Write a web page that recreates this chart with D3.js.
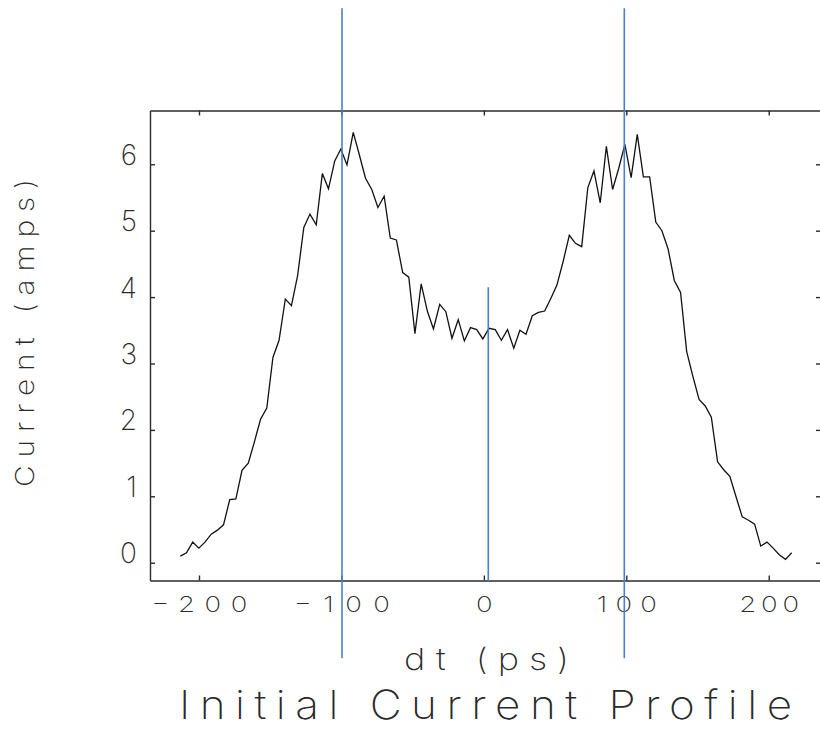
<!DOCTYPE html>
<html>
<head>
<meta charset="utf-8">
<script src="https://cdn.jsdelivr.net/npm/d3@7"></script>
<style>
  body { margin: 0; background: #fff; }
  text { font-family: Inter, "DejaVu Sans", sans-serif; font-weight: 200; fill: #2a2a2a; }
</style>
</head>
<body>
<svg id="svgHolder"></svg>
<script>
// bunch profile
let dt = [-213.1, -208.8, -204.4, -200.1, -195.8, -191.4, -187.1, -182.8, -178.4, -174.1,
          -169.8, -165.4, -161.1, -156.8, -152.4, -148.1, -143.8, -139.4, -135.1, -130.8,
          -126.4, -122.1, -117.7, -113.4, -109.1, -104.7, -100.4, -96.1, -91.7, -87.4,
          -83.1, -78.7, -74.4, -70.0, -65.7, -61.4, -57.0, -52.7, -48.4, -44.0,
          -39.7, -35.4, -31.0, -26.7, -22.4, -18.0, -13.7, -9.4, -5.0, -0.7,
          3.6, 8.0, 12.3, 16.6, 21.0, 25.3, 29.6, 34.0, 38.3, 42.7,
          47.0, 51.3, 55.7, 60.0, 64.3, 68.7, 73.0, 77.3, 81.7, 86.0,
          90.4, 94.7, 99.0, 103.4, 107.7, 112.0, 116.4, 120.7, 125.0, 129.4,
          133.7, 138.1, 142.4, 146.7, 151.1, 155.4, 159.7, 164.1, 168.4, 172.7,
          177.1, 181.4, 185.8, 190.1, 194.4, 198.8, 203.1, 207.4, 211.8, 216.1];

let current = [0.10, 0.15, 0.31, 0.22, 0.31, 0.43, 0.49, 0.57, 0.95, 0.96,
               1.39, 1.50, 1.82, 2.16, 2.33, 3.09, 3.35, 3.97, 3.87, 4.32,
               5.05, 5.25, 5.09, 5.86, 5.63, 6.05, 6.23, 5.99, 6.48, 6.14,
               5.79, 5.62, 5.35, 5.52, 4.89, 4.86, 4.37, 4.30, 3.45, 4.20,
               3.79, 3.52, 3.89, 3.78, 3.38, 3.66, 3.34, 3.54, 3.51, 3.37,
               3.53, 3.51, 3.35, 3.51, 3.23, 3.50, 3.44, 3.72, 3.77, 3.79,
               3.98, 4.18, 4.54, 4.93, 4.81, 4.76, 5.65, 5.90, 5.42, 6.27,
               5.62, 5.94, 6.30, 5.80, 6.45, 5.81, 5.81, 5.13, 5.00, 4.72,
               4.25, 4.07, 3.18, 2.81, 2.46, 2.36, 2.19, 1.52, 1.40, 1.30,
               0.99, 0.69, 0.64, 0.58, 0.25, 0.31, 0.22, 0.12, 0.05, 0.15];

let xTicks = [-200, -100, 0, 100, 200];
let yTicks = [0, 1, 2, 3, 4, 5, 6];

// blue marker lines
let markerDt = [-99.6, 3.1, 98.6];
let markerTop = [8.35, 4.15, 8.35];
let markerBottom = [-1.44, -0.27, -1.44];

let width = 820;
let height = 729;
let plotLeft = 150, plotRight = 821, plotTop = 110.5, plotBottom = 580.5;

let xScale = d3.scaleLinear().domain([-234.4, 236.7]).range([plotLeft, plotRight]);
let yScale = d3.scaleLinear().domain([-0.268, 6.81]).range([plotBottom, plotTop]);

let svg = d3.select('#svgHolder')
    .attr('width', width)
    .attr('height', height);

svg.append('rect')
    .attr('width', width)
    .attr('height', height)
    .attr('fill', '#fff');

function styleAxis(g) {
    g.selectAll('path, line').attr('stroke', '#2a2a2a').attr('stroke-width', 1.4);
}

// bottom axis with labels
let xAxis = d3.axisBottom(xScale)
    .tickValues(xTicks)
    .tickSizeInner(-5)
    .tickSizeOuter(0)
    .tickFormat((d) => d < 0 ? '\u2212' + Math.abs(d) : String(d));

let gx = svg.append('g')
    .attr('transform', 'translate(0,' + plotBottom + ')')
    .call(xAxis)
    .call(styleAxis);

// wide, stroke-font-like labels: stretch glyphs sideways
let labelStretch = 1.25;
gx.selectAll('text')
    .attr('y', 0)
    .attr('dy', 0)
    .attr('transform', 'translate(0,31.5) scale(' + labelStretch + ',1)')
    .attr('font-size', 22)
    .attr('fill', '#2a2a2a')
    .each(function (d) {
        let s = String(Math.abs(d));
        if (s.length > 1 || d < 0) {
            d3.select(this)
                .attr('textLength', (20 * s.length + (d < 0 ? 36 : 0)) / labelStretch)
                .attr('lengthAdjust', 'spacing');
        }
    });

// top axis, ticks only
svg.append('g')
    .attr('transform', 'translate(0,' + plotTop + ')')
    .call(d3.axisTop(xScale).tickValues(xTicks).tickSizeInner(-5).tickSizeOuter(0).tickFormat(''))
    .call(styleAxis);

// left axis with labels
let gy = svg.append('g')
    .attr('transform', 'translate(' + plotLeft + ',0)')
    .call(d3.axisLeft(yScale).tickValues(yTicks).tickSizeInner(-5).tickSizeOuter(0).tickPadding(13))
    .call(styleAxis);

gy.selectAll('text')
    .attr('dy', 0)
    .attr('font-size', 28)
    .attr('fill', '#2a2a2a');

// right axis, ticks only
svg.append('g')
    .attr('transform', 'translate(' + plotRight + ',0)')
    .call(d3.axisRight(yScale).tickValues(yTicks).tickSizeInner(-5).tickSizeOuter(0).tickFormat(''))
    .call(styleAxis);

// profile
let line = d3.line()
    .x((d, i) => xScale(dt[i]))
    .y((d) => yScale(d));

svg.append('path')
    .datum(current)
    .attr('d', line)
    .attr('fill', 'none')
    .attr('stroke', '#111')
    .attr('stroke-width', 1.3);

svg.selectAll('.marker')
    .data(markerDt)
    .enter()
    .append('line')
    .attr('class', 'marker')
    .attr('x1', (d) => xScale(d))
    .attr('x2', (d) => xScale(d))
    .attr('y1', (d, i) => yScale(markerTop[i]))
    .attr('y2', (d, i) => yScale(markerBottom[i]))
    .attr('stroke', '#4a7fcf')
    .attr('stroke-width', 1.6);

// titles
function wideText(str, transform, size, len, stretch) {
    svg.append('text')
        .attr('transform', transform + ' scale(' + stretch + ',1)')
        .attr('font-size', size)
        .attr('textLength', len / stretch)
        .attr('lengthAdjust', 'spacing')
        .text(str);
}

wideText('dt (ps)', 'translate(404,670)', 30, 165, 1.2);
wideText('Current (amps)', 'translate(34,487) rotate(-90)', 26, 308, 1.15);
wideText('Initial Current Profile', 'translate(179,719)', 40, 613, 1.1);
</script>
</body>
</html>
